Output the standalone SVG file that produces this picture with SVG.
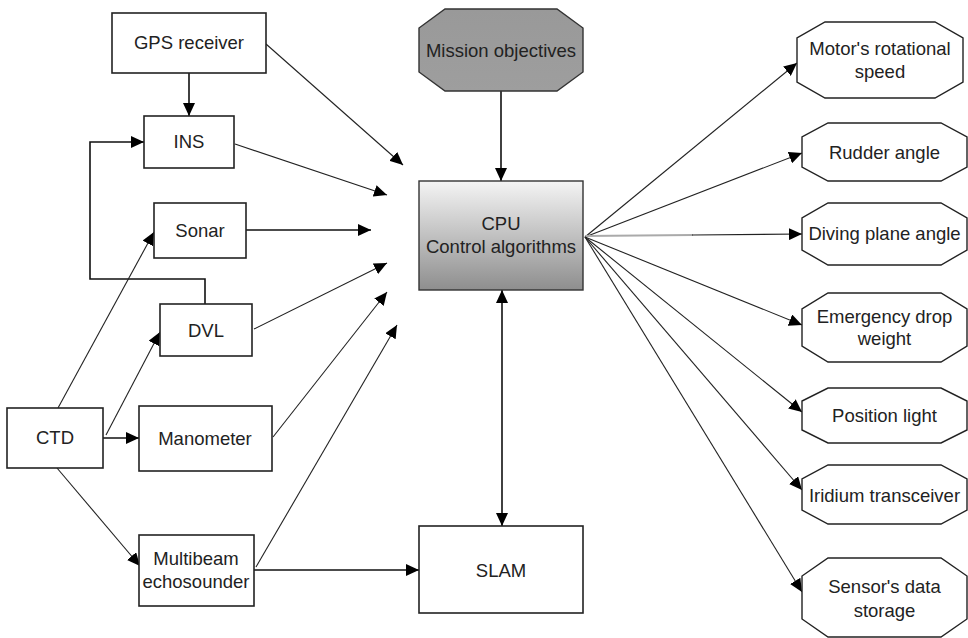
<svg xmlns="http://www.w3.org/2000/svg" width="968" height="638" viewBox="0 0 968 638">
<style>
.box{fill:#fff;stroke:#222;stroke-width:1.6}
.oct{fill:#fff;stroke:#222;stroke-width:1.4}
text{font-family:"Liberation Sans",Arial,sans-serif;font-size:18.5px;fill:#222;text-anchor:middle}
.c{fill:none;stroke:#222;stroke-width:1.1}
.o{fill:none;stroke:#111;stroke-width:1.6}
.a{marker-end:url(#ah)}
</style>
<defs>
<marker id="ah" markerUnits="userSpaceOnUse" markerWidth="14" markerHeight="12" refX="13" refY="6" orient="auto">
<path d="M0,0 L13,6 L0,12 z" fill="#000"/>
</marker>
<marker id="as" markerUnits="userSpaceOnUse" markerWidth="14" markerHeight="12" refX="13" refY="6" orient="auto-start-reverse">
<path d="M0,0 L13,6 L0,12 z" fill="#000"/>
</marker>
<linearGradient id="gcpu" x1="0" y1="0" x2="0" y2="1">
<stop offset="0" stop-color="#f4f4f4"/>
<stop offset="1" stop-color="#8e8e8e"/>
</linearGradient>
<linearGradient id="gmis" x1="0" y1="0" x2="0" y2="1">
<stop offset="0" stop-color="#999"/>
<stop offset="1" stop-color="#9e9e9e"/>
</linearGradient>
</defs>
<rect width="968" height="638" fill="#fff"/>
<g id="connectors">
<line class="o a" x1="189" y1="73" x2="189" y2="116"/>
<polyline class="o a" points="205,304 205,279 90,279 90,142 144,142"/>
<line class="c a" x1="266" y1="44" x2="403" y2="165"/>
<line class="c a" x1="235" y1="144" x2="387" y2="195"/>
<line class="o a" x1="246" y1="230" x2="371" y2="230"/>
<line class="c a" x1="254" y1="329" x2="387" y2="263"/>
<line class="c a" x1="273" y1="437" x2="387" y2="292"/>
<line class="c a" x1="256" y1="567" x2="397" y2="325"/>
<line class="c a" x1="58" y1="408" x2="154" y2="232"/>
<line class="c a" x1="106" y1="435" x2="160" y2="332"/>
<line class="o a" x1="103" y1="438" x2="139" y2="438"/>
<line class="c a" x1="57" y1="468" x2="140" y2="566"/>
<line class="o a" x1="254" y1="570" x2="419" y2="570"/>
<line class="o a" x1="501" y1="91" x2="501" y2="181"/>
<line class="o" x1="502" y1="290" x2="502" y2="526" marker-start="url(#as)" marker-end="url(#ah)"/>
<line class="c a" x1="585" y1="237" x2="797" y2="63"/>
<line class="c a" x1="585" y1="237" x2="802" y2="153"/>
<line x1="585" y1="236" x2="693" y2="235" stroke="#aaa" stroke-width="1.8"/>
<line class="c a" x1="692" y1="235" x2="802" y2="234"/>
<line class="c a" x1="585" y1="237" x2="802" y2="325"/>
<line class="c a" x1="585" y1="237" x2="802" y2="412"/>
<line class="c a" x1="585" y1="237" x2="802" y2="490"/>
<line class="c a" x1="585" y1="237" x2="802" y2="592"/>
</g>
<g id="gps"><rect class="box" x="112" y="13" width="154" height="60"/><text x="189" y="49">GPS receiver</text></g>
<g id="ins"><rect class="box" x="144" y="116" width="90" height="52"/><text x="189" y="148">INS</text></g>
<g id="sonar"><rect class="box" x="154" y="203" width="92" height="55"/><text x="200" y="237">Sonar</text></g>
<g id="dvl"><rect class="box" x="160" y="304" width="92" height="52"/><text x="206" y="337">DVL</text></g>
<g id="ctd"><rect class="box" x="7" y="408" width="96" height="60"/><text x="55" y="444">CTD</text></g>
<g id="manometer"><rect class="box" x="139" y="406" width="133" height="65"/><text x="205" y="445">Manometer</text></g>
<g id="multibeam"><rect class="box" x="139" y="535" width="115" height="71"/><text x="196" y="565">Multibeam</text><text x="196" y="588">echosounder</text></g>
<g id="slam"><rect class="box" x="419" y="526" width="164" height="87"/><text x="501" y="577">SLAM</text></g>
<g id="mission"><polygon points="445,9 557,9 583,28 583,72 557,91 445,91 419,72 419,28" fill="url(#gmis)" stroke="#333" stroke-width="1.4"/><text x="501" y="57">Mission objectives</text></g>
<g id="cpu"><rect x="419" y="181" width="164" height="109" fill="url(#gcpu)" stroke="#333" stroke-width="1.4"/><text x="501" y="230">CPU</text><text x="501" y="253">Control algorithms</text></g>
<g id="motor"><polygon class="oct" points="825,22 935,22 963,38 963,82 935,98 825,98 797,82 797,38"/><text x="880" y="55">Motor's rotational</text><text x="880" y="78">speed</text></g>
<g id="rudder"><polygon class="oct" points="828,123 941,123 967,137 967,167 941,181 828,181 802,167 802,137"/><text x="884.5" y="159">Rudder angle</text></g>
<g id="diving"><polygon class="oct" points="828,203 941,203 967,218 967,250 941,265 828,265 802,250 802,218"/><text x="884.5" y="240">Diving plane angle</text></g>
<g id="emergency"><polygon class="oct" points="828,293 941,293 967,309 967,346 941,362 828,362 802,346 802,309"/><text x="884.5" y="323">Emergency drop</text><text x="884.5" y="345">weight</text></g>
<g id="position"><polygon class="oct" points="828,388 941,388 967,401 967,430 941,443 828,443 802,430 802,401"/><text x="884.5" y="422">Position light</text></g>
<g id="iridium"><polygon class="oct" points="828,465 941,465 967,479 967,510 941,524 828,524 802,510 802,479"/><text x="884.5" y="502">Iridium transceiver</text></g>
<g id="sensor"><polygon class="oct" points="828,558 941,558 967,576 967,619 941,637 828,637 802,619 802,576"/><text x="884.5" y="593">Sensor's data</text><text x="884.5" y="617">storage</text></g>
</svg>
